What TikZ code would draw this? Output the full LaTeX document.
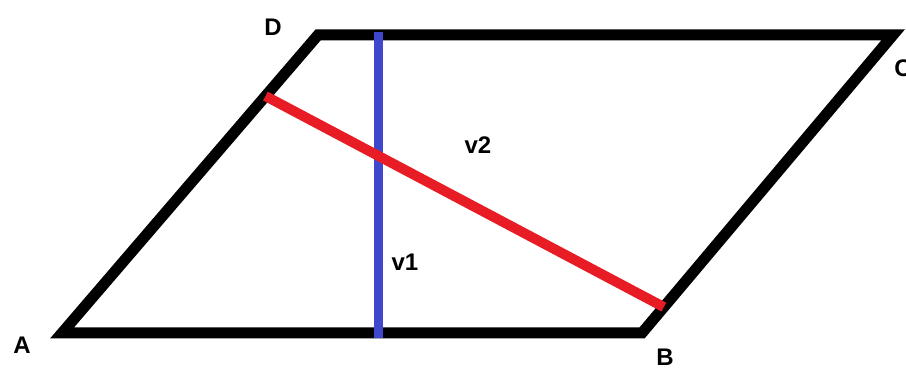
\documentclass[tikz,border=0pt]{standalone}
\usepackage{fontspec}
\setmainfont{Liberation Sans}
\usetikzlibrary{calc}
\definecolor{vred}{RGB}{232,28,36}
\definecolor{vblue}{RGB}{63,72,204}
\begin{document}
\begin{tikzpicture}[x=1pt,y=1pt,
    side/.style={line width=11pt,line join=miter},
    lab/.style={font=\fontsize{24}{28}\selectfont\bfseries,inner sep=0pt}]
  \useasboundingbox (0,0) rectangle (906,369);
  \coordinate (A) at (62,36);
  \coordinate (B) at (642,36);
  \coordinate (C) at (893,334);
  \coordinate (D) at (318,334);
  \draw[side] (A) -- (B) -- (C) -- (D) -- cycle;
  % diagonals v1 and v2
  \coordinate (V1top) at (378,337);
  \coordinate (V1bot) at (378,31);
  \draw[vblue,line width=9pt] (V1top) -- (V1bot);
  \coordinate (V2a) at ($(A)!0.795!(D)$);
  \coordinate (V2b) at ($(B)!0.087!(C)$);
  \draw[vred,line width=10pt] (V2a) -- (V2b);
  \node[lab] (LA) at (22,24) {A};
  \node[lab] (LB) at (665,12) {B};
  \node[lab] (LC) at (903,301) {C};
  \node[lab] (LD) at (273,342) {D};
  \node[lab] (Lv1) at (405,107) {v1};
  \node[lab] (Lv2) at (478,224) {v2};
\end{tikzpicture}
\end{document}
